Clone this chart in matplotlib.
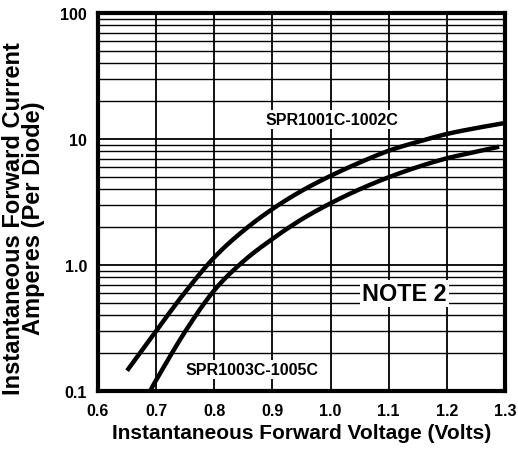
import matplotlib
matplotlib.use("Agg")
import matplotlib.pyplot as plt
import numpy as np
from matplotlib.ticker import FixedLocator, LogLocator, NullFormatter, FixedFormatter

plt.rcParams['font.family'] = ['Liberation Sans', 'DejaVu Sans']
plt.rcParams['font.weight'] = 'bold'

# Upper curve (SPR1001C-1002C)
v_upper = [0.65, 0.70, 0.75, 0.80, 0.85, 0.90, 0.95, 1.00, 1.05, 1.10, 1.15, 1.20, 1.25, 1.30]
i_upper = [0.145, 0.30, 0.61, 1.15, 1.87, 2.78, 3.87, 5.1, 6.5, 8.07, 9.5, 10.96, 12.2, 13.4]
# Lower curve (SPR1003C-1005C)
v_lower = [0.69, 0.70, 0.75, 0.80, 0.85, 0.90, 0.95, 1.00, 1.05, 1.10, 1.15, 1.20, 1.25, 1.29]
i_lower = [0.10, 0.122, 0.297, 0.63, 1.07, 1.61, 2.30, 3.09, 3.99, 4.97, 6.0, 7.03, 7.9, 8.69]

x_ticks = [0.6, 0.7, 0.8, 0.9, 1.0, 1.1, 1.2, 1.3]
x_labels = ["0.6", "0.7", "0.8", "0.9", "1.0", "1.1", "1.2", "1.3"]
y_ticks = [0.1, 1.0, 10, 100]
y_labels = ["0.1", "1.0", "10", "100"]


def catmull_rom(xs, ys, n=20):
    """Smooth curve through the data points (in log-current space)."""
    xs = np.asarray(xs, float)
    ys = np.log10(np.asarray(ys, float))
    px = np.concatenate([[2 * xs[0] - xs[1]], xs, [2 * xs[-1] - xs[-2]]])
    py = np.concatenate([[2 * ys[0] - ys[1]], ys, [2 * ys[-1] - ys[-2]]])
    ox, oy = [], []
    t = np.linspace(0, 1, n, endpoint=False)
    for k in range(1, len(px) - 2):
        for arr, out in ((px, ox), (py, oy)):
            p0, p1, p2, p3 = arr[k - 1], arr[k], arr[k + 1], arr[k + 2]
            out.extend(0.5 * ((2 * p1) + (-p0 + p2) * t
                              + (2 * p0 - 5 * p1 + 4 * p2 - p3) * t ** 2
                              + (-p0 + 3 * p1 - 3 * p2 + p3) * t ** 3))
    ox.append(xs[-1]); oy.append(ys[-1])
    return np.array(ox), 10 ** np.array(oy)


fig = plt.figure(figsize=(5.18, 4.52), dpi=100)
ax = fig.add_axes([98/518, 1-392/452, (505-98)/518, (392-14)/452])
ax.set_yscale('log')
ax.set_xlim(0.6, 1.3)
ax.set_ylim(0.1, 100)

ax.xaxis.set_major_locator(FixedLocator(x_ticks))
ax.xaxis.set_major_formatter(FixedFormatter(x_labels))
ax.yaxis.set_major_locator(FixedLocator(y_ticks))
ax.yaxis.set_major_formatter(FixedFormatter(y_labels))
ax.yaxis.set_minor_locator(LogLocator(base=10, subs=range(2, 10)))
ax.yaxis.set_minor_formatter(NullFormatter())

ax.grid(True, which='major', axis='both', color='black', linewidth=1.3)
ax.grid(True, which='minor', axis='y', color='black', linewidth=1.0)
ax.tick_params(which='both', length=0, labelsize=11.5)
ax.tick_params(axis='x', pad=9)
ax.tick_params(axis='y', pad=8)
for lab in ax.get_xticklabels() + ax.get_yticklabels():
    lab.set_fontweight('bold')

for s in ax.spines.values():
    s.set_linewidth(3)
    s.set_color('black')
    s.set_zorder(5)

for v, i in ((v_upper, i_upper), (v_lower, i_lower)):
    sx, sy = catmull_rom(v, i)
    ax.plot(sx, sy, color='black', linewidth=3.2, solid_capstyle='butt', zorder=3)

box = dict(facecolor='white', edgecolor='none', pad=1.5)
ax.text(1.003, 14.2, "SPR1001C-1002C", ha='center', va='center', fontsize=11.5,
        fontweight='bold', bbox=box, zorder=4)
ax.text(1.1275, 0.59, "NOTE 2", ha='center', va='center', fontsize=16.8,
        fontweight='bold', bbox=box, zorder=4)
ax.text(0.865, 0.149, "SPR1003C-1005C", ha='center', va='center', fontsize=11.5,
        fontweight='bold', bbox=box, zorder=4)

ax.set_xlabel("Instantaneous Forward Voltage (Volts)", fontsize=15, fontweight='bold')
ax.xaxis.set_label_coords(0.5, -0.085)
ax.set_ylabel("Instantaneous Forward Current\nAmperes (Per Diode)", fontsize=17,
              fontweight='bold', linespacing=0.85)
ax.yaxis.set_label_coords(-0.13, 0.46)

fig.savefig("out.png", dpi=100)
